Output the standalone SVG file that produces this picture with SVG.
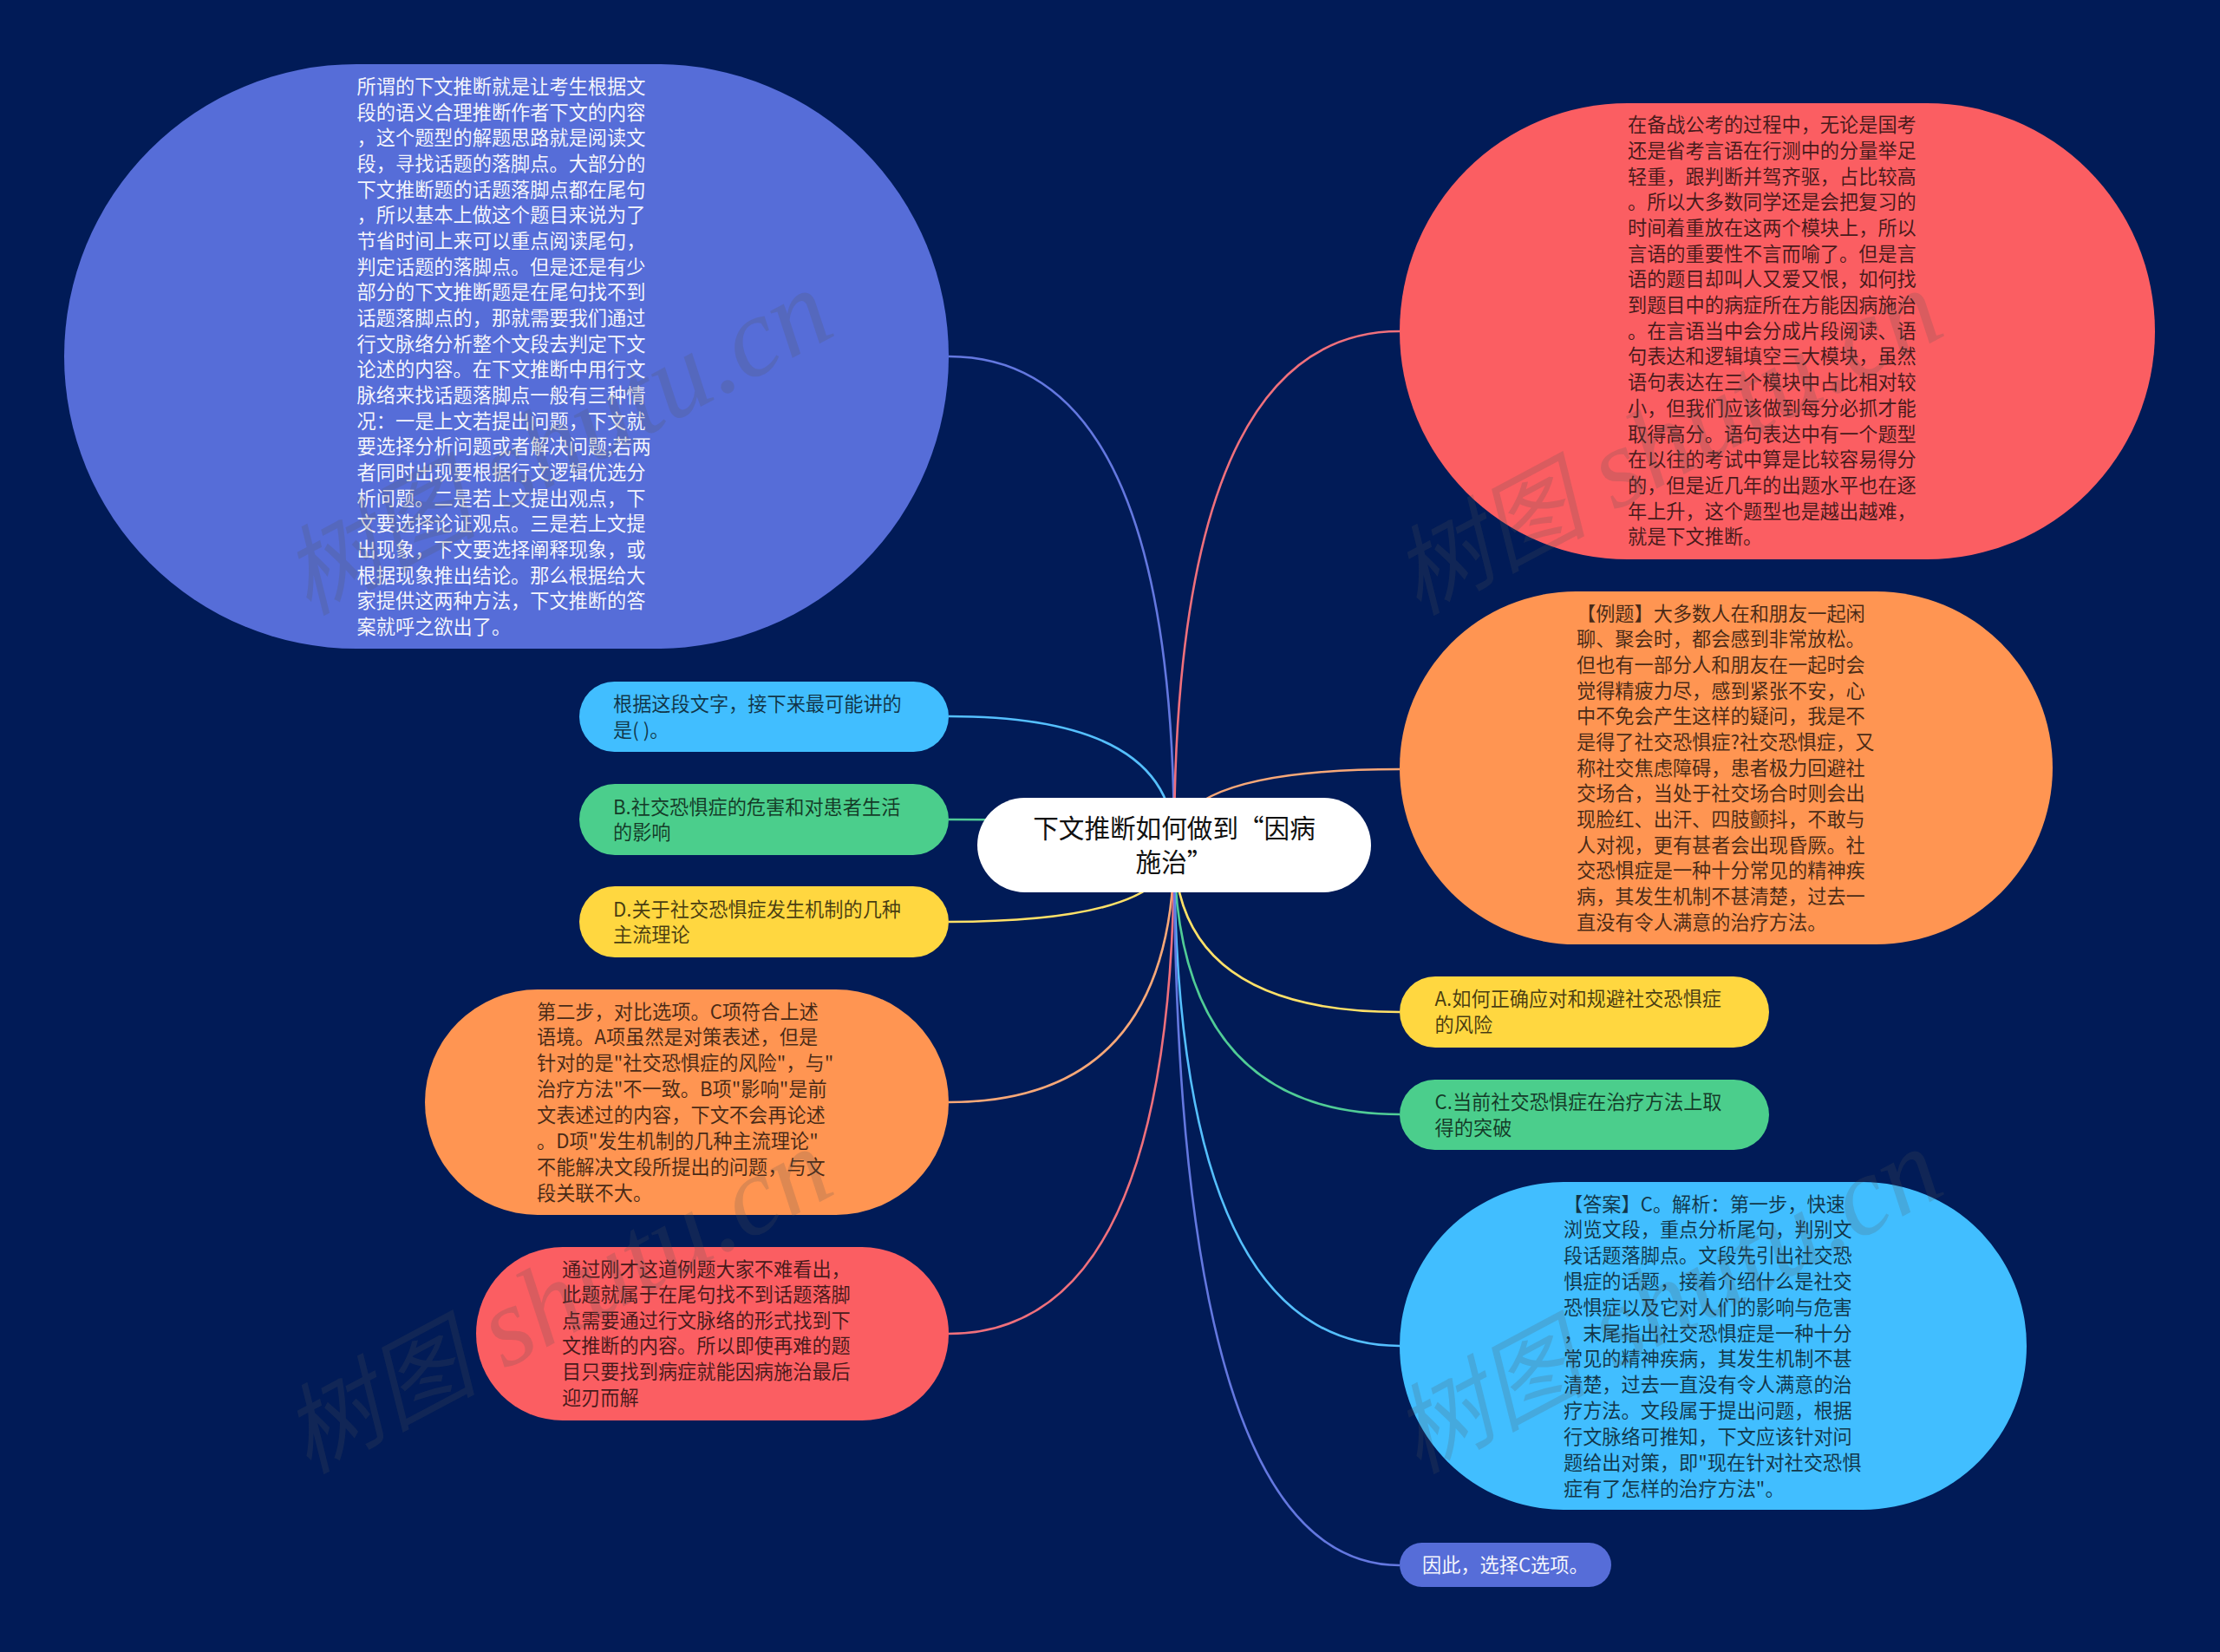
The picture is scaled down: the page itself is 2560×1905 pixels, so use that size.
<svg xmlns="http://www.w3.org/2000/svg" width="2560" height="1905" viewBox="0 0 2560 1905">
<style>
.l{fill:none;stroke-width:2.6}
.t{font-family:"Noto Sans CJK SC","Liberation Sans",sans-serif;font-size:22.2px;fill:#000;fill-opacity:.72;dominant-baseline:central;transform:translateY(-2.5px)}
.c{font-family:"Noto Sans CJK SC",sans-serif;font-size:29.6px;fill:#111;dominant-baseline:central;text-anchor:middle}
.wm{font-family:"Liberation Serif","Noto Sans CJK SC",serif;font-size:130px;font-style:italic;fill:#555;fill-opacity:.2}
.wc{font-family:"Noto Sans CJK SC",serif;font-size:112px}
.bl{fill:#566dd8}.re{fill:#fb5e62}.or{fill:#ff9552}.ye{fill:#ffd740}.gr{fill:#4bce8c}.sk{fill:#41beff}
</style>
<rect width="2560" height="1905" fill="#011b57"/>
<g id="connectors">
<path class="l" stroke="#6478e0" d="M1354 975Q1354 411 1094 411"/>
<path class="l" stroke="#f0707c" d="M1354 975Q1354 382 1614 382"/>
<path class="l" stroke="#55c0ff" d="M1354 975Q1354 826 1094 826"/>
<path class="l" stroke="#f8a878" d="M1354 975Q1354 887 1614 887"/>
<path class="l" stroke="#50cc96" d="M1354 975Q1354 945 1094 945"/>
<path class="l" stroke="#ffe168" d="M1354 975Q1354 1063 1094 1063"/>
<path class="l" stroke="#ffe168" d="M1354 975Q1354 1167 1614 1167"/>
<path class="l" stroke="#50cc96" d="M1354 975Q1354 1285 1614 1285"/>
<path class="l" stroke="#f8a878" d="M1354 975Q1354 1271 1094 1271"/>
<path class="l" stroke="#f0707c" d="M1354 975Q1354 1538 1094 1538"/>
<path class="l" stroke="#55c0ff" d="M1354 975Q1354 1552 1614 1552"/>
<path class="l" stroke="#6478e0" d="M1354 975Q1354 1805 1614 1805"/>
</g>
<g id="node-center"><rect x="1127" y="920" width="454" height="109" rx="54.5" fill="#fff"/>
<text class="c" x="1354" y="953">下文推断如何做到“因病</text>
<text class="c" x="1354" y="992">施治”</text></g>
<g id="node-1"><rect class="bl" x="74" y="74" width="1020" height="674" rx="337"/>
<g class="t" style="fill:#fff;fill-opacity:.95">
<text x="411.6" y="100.4">所谓的下文推断就是让考生根据文</text>
<text x="411.6" y="130.1">段的语义合理推断作者下文的内容</text>
<text x="411.6" y="159.7">，这个题型的解题思路就是阅读文</text>
<text x="411.6" y="189.4">段，寻找话题的落脚点。大部分的</text>
<text x="411.6" y="219.1">下文推断题的话题落脚点都在尾句</text>
<text x="411.6" y="248.8">，所以基本上做这个题目来说为了</text>
<text x="411.6" y="278.4">节省时间上来可以重点阅读尾句，</text>
<text x="411.6" y="308.1">判定话题的落脚点。但是还是有少</text>
<text x="411.6" y="337.8">部分的下文推断题是在尾句找不到</text>
<text x="411.6" y="367.4">话题落脚点的，那就需要我们通过</text>
<text x="411.6" y="397.1">行文脉络分析整个文段去判定下文</text>
<text x="411.6" y="426.8">论述的内容。在下文推断中用行文</text>
<text x="411.6" y="456.4">脉络来找话题落脚点一般有三种情</text>
<text x="411.6" y="486.1">况：一是上文若提出问题，下文就</text>
<text x="411.6" y="515.8">要选择分析问题或者解决问题;若两</text>
<text x="411.6" y="545.5">者同时出现要根据行文逻辑优选分</text>
<text x="411.6" y="575.1">析问题。二是若上文提出观点，下</text>
<text x="411.6" y="604.8">文要选择论证观点。三是若上文提</text>
<text x="411.6" y="634.5">出现象，下文要选择阐释现象，或</text>
<text x="411.6" y="664.1">根据现象推出结论。那么根据给大</text>
<text x="411.6" y="693.8">家提供这两种方法，下文推断的答</text>
<text x="411.6" y="723.5">案就呼之欲出了。</text>
</g></g>
<g id="node-2"><rect class="re" x="1614" y="119" width="871" height="526" rx="263"/>
<g class="t">
<text x="1877" y="144.6">在备战公考的过程中，无论是国考</text>
<text x="1877" y="174.3">还是省考言语在行测中的分量举足</text>
<text x="1877" y="204">轻重，跟判断并驾齐驱，占比较高</text>
<text x="1877" y="233.7">。所以大多数同学还是会把复习的</text>
<text x="1877" y="263.4">时间着重放在这两个模块上，所以</text>
<text x="1877" y="293.1">言语的重要性不言而喻了。但是言</text>
<text x="1877" y="322.8">语的题目却叫人又爱又恨，如何找</text>
<text x="1877" y="352.5">到题目中的病症所在方能因病施治</text>
<text x="1877" y="382.2">。在言语当中会分成片段阅读、语</text>
<text x="1877" y="411.9">句表达和逻辑填空三大模块，虽然</text>
<text x="1877" y="441.6">语句表达在三个模块中占比相对较</text>
<text x="1877" y="471.3">小，但我们应该做到每分必抓才能</text>
<text x="1877" y="501">取得高分。语句表达中有一个题型</text>
<text x="1877" y="530.7">在以往的考试中算是比较容易得分</text>
<text x="1877" y="560.4">的，但是近几年的出题水平也在逐</text>
<text x="1877" y="590.1">年上升，这个题型也是越出越难，</text>
<text x="1877" y="619.8">就是下文推断。</text>
</g></g>
<g id="node-3"><rect class="sk" x="668" y="786" width="426" height="81" rx="40.5"/>
<g class="t"><text x="707" y="812">根据这段文字，接下来最可能讲的</text><text x="707" y="842">是( )。</text></g></g>
<g id="node-4"><rect class="or" x="1614" y="682" width="753" height="407" rx="203.5"/>
<g class="t">
<text x="1818" y="708">【例题】大多数人在和朋友一起闲</text>
<text x="1818" y="737.7">聊、聚会时，都会感到非常放松。</text>
<text x="1818" y="767.3">但也有一部分人和朋友在一起时会</text>
<text x="1818" y="797">觉得精疲力尽，感到紧张不安，心</text>
<text x="1818" y="826.7">中不免会产生这样的疑问，我是不</text>
<text x="1818" y="856.3">是得了社交恐惧症?社交恐惧症，又</text>
<text x="1818" y="886">称社交焦虑障碍，患者极力回避社</text>
<text x="1818" y="915.7">交场合，当处于社交场合时则会出</text>
<text x="1818" y="945.3">现脸红、出汗、四肢颤抖，不敢与</text>
<text x="1818" y="975">人对视，更有甚者会出现昏厥。社</text>
<text x="1818" y="1004.7">交恐惧症是一种十分常见的精神疾</text>
<text x="1818" y="1034.3">病，其发生机制不甚清楚，过去一</text>
<text x="1818" y="1064">直没有令人满意的治疗方法。</text>
</g></g>
<g id="node-5"><rect class="gr" x="668" y="904" width="426" height="82" rx="41"/>
<g class="t"><text x="707" y="931">B.社交恐惧症的危害和对患者生活</text><text x="707" y="960">的影响</text></g></g>
<g id="node-6"><rect class="ye" x="668" y="1022" width="426" height="82" rx="41"/>
<g class="t"><text x="707" y="1049">D.关于社交恐惧症发生机制的几种</text><text x="707" y="1078">主流理论</text></g></g>
<g id="node-7"><rect class="ye" x="1614" y="1126" width="426" height="82" rx="41"/>
<g class="t"><text x="1654.6" y="1152">A.如何正确应对和规避社交恐惧症</text><text x="1654.6" y="1182">的风险</text></g></g>
<g id="node-8"><rect class="gr" x="1614" y="1245" width="426" height="81" rx="40.5"/>
<g class="t"><text x="1654.6" y="1271">C.当前社交恐惧症在治疗方法上取</text><text x="1654.6" y="1301">得的突破</text></g></g>
<g id="node-9"><rect class="or" x="490" y="1141" width="604" height="260" rx="130"/>
<g class="t">
<text x="619" y="1167">第二步，对比选项。C项符合上述</text>
<text x="619" y="1196.9">语境。A项虽然是对策表述，但是</text>
<text x="619" y="1226.8">针对的是"社交恐惧症的风险"，与"</text>
<text x="619" y="1256.7">治疗方法"不一致。B项"影响"是前</text>
<text x="619" y="1286.6">文表述过的内容，下文不会再论述</text>
<text x="619" y="1316.5">。D项"发生机制的几种主流理论"</text>
<text x="619" y="1346.4">不能解决文段所提出的问题，与文</text>
<text x="619" y="1376">段关联不大。</text>
</g></g>
<g id="node-10"><rect class="re" x="549" y="1438" width="545" height="200" rx="100"/>
<g class="t">
<text x="648" y="1464">通过刚才这道例题大家不难看出，</text>
<text x="648" y="1493.6">此题就属于在尾句找不到话题落脚</text>
<text x="648" y="1523.2">点需要通过行文脉络的形式找到下</text>
<text x="648" y="1552.8">文推断的内容。所以即使再难的题</text>
<text x="648" y="1582.4">目只要找到病症就能因病施治最后</text>
<text x="648" y="1612">迎刃而解</text>
</g></g>
<g id="node-11"><rect class="sk" x="1614" y="1363" width="723" height="378" rx="189"/>
<g class="t">
<text x="1803" y="1389">【答案】C。解析：第一步，快速</text>
<text x="1803" y="1418.8">浏览文段，重点分析尾句，判别文</text>
<text x="1803" y="1448.6">段话题落脚点。文段先引出社交恐</text>
<text x="1803" y="1478.5">惧症的话题，接着介绍什么是社交</text>
<text x="1803" y="1508.3">恐惧症以及它对人们的影响与危害</text>
<text x="1803" y="1538.1">，末尾指出社交恐惧症是一种十分</text>
<text x="1803" y="1567.9">常见的精神疾病，其发生机制不甚</text>
<text x="1803" y="1597.7">清楚，过去一直没有令人满意的治</text>
<text x="1803" y="1627.5">疗方法。文段属于提出问题，根据</text>
<text x="1803" y="1657.4">行文脉络可推知，下文应该针对问</text>
<text x="1803" y="1687.2">题给出对策，即"现在针对社交恐惧</text>
<text x="1803" y="1717">症有了怎样的治疗方法"。</text>
</g></g>
<g id="node-12"><rect class="bl" x="1614" y="1779" width="244" height="51" rx="25.5"/>
<text class="t" style="fill:#fff;fill-opacity:.95" x="1640" y="1805">因此，选择C选项。</text></g>
<g id="watermarks">
<text class="wm" transform="translate(355 710) rotate(-28)"><tspan class="wc">树图</tspan> shutu.cn</text>
<text class="wm" transform="translate(1635 710) rotate(-28)"><tspan class="wc">树图</tspan> shutu.cn</text>
<text class="wm" transform="translate(355 1700) rotate(-28)"><tspan class="wc">树图</tspan> shutu.cn</text>
<text class="wm" transform="translate(1635 1700) rotate(-28)"><tspan class="wc">树图</tspan> shutu.cn</text>
</g>
</svg>
